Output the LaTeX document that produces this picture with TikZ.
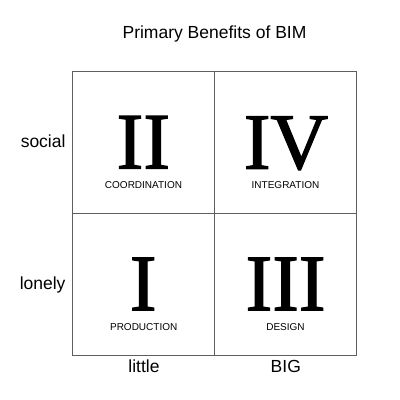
\documentclass[tikz,border=0pt]{standalone}
\usepackage{fontspec}
\setmainfont{Liberation Serif}
\setsansfont{Liberation Sans}
\newfontfamily\numfont[FakeBold=1.6]{Liberation Serif}
\definecolor{gridgray}{RGB}{95,95,95}
\begin{document}
\begin{tikzpicture}[x=1pt,y=-1pt,
  gridline/.style={draw=gridgray,line width=0.8pt},
  axislabel/.style={font=\sffamily\fontsize{17.5}{20}\selectfont,inner sep=0pt,anchor=base},
  numeral/.style={font=\numfont\fontsize{80}{80}\selectfont,inner sep=0pt,text depth=0pt,anchor=base},
  benefit/.style={font=\sffamily\fontsize{10}{12}\selectfont,inner sep=0pt,text height=7.2pt,anchor=base}]
\useasboundingbox[fill=white] (0,0) rectangle (400,400);
% grid
\coordinate (tl) at (72.7,71.7);
\coordinate (br) at (356.7,355);
\coordinate (tm) at (214.3,71.7);
\coordinate (bm) at (214.3,355);
\coordinate (lm) at (72.7,213.3);
\coordinate (rm) at (356.7,213.3);
\draw[gridline] (tl) rectangle (br);
\draw[gridline] (tm) -- (bm);
\draw[gridline] (lm) -- (rm);
% title
\node[axislabel] (title) at (214.5,38.3) {Primary Benefits of BIM};
% axis labels
\node[axislabel,anchor=base east] (social) at (65.7,147.3) {social};
\node[axislabel,anchor=base east] (lonely) at (65.7,289) {lonely};
\node[axislabel] (little) at (144,372.8) {little};
\node[axislabel] (big) at (285.8,372.8) {BIG};
% numerals
\node[numeral] (n2) at (143.3,168.5) {II};
\node[numeral] (n4) at (286,168.8) {IV};
\node[numeral] (n1) at (143.3,310.2) {I};
\node[numeral] (n3) at (285.6,310.2) {III};
% benefit labels
\node[benefit] (coord) at (143.5,188.2) {COORDINATION};
\node[benefit] (integ) at (285.5,188.2) {INTEGRATION};
\node[benefit] (prod) at (143.7,330.6) {PRODUCTION};
\node[benefit] (design) at (285.5,330.4) {DESIGN};
\end{tikzpicture}
\end{document}
